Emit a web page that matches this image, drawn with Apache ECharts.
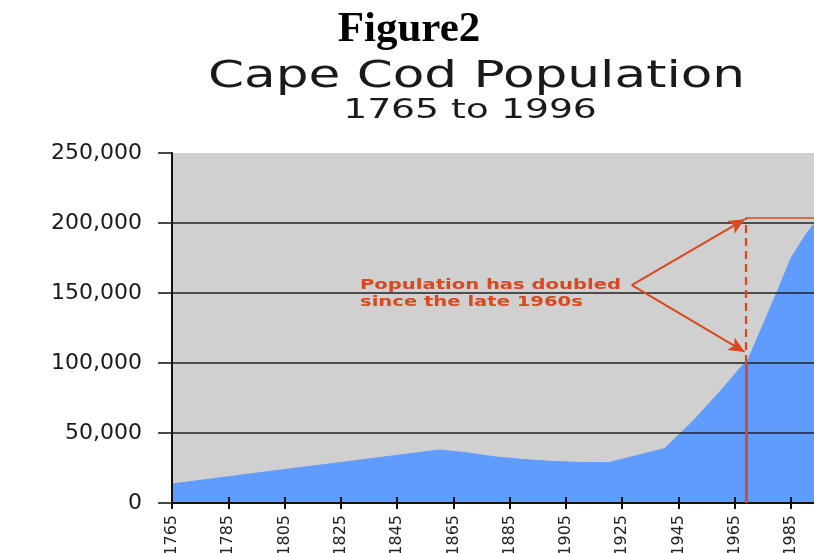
<!DOCTYPE html>
<html>
<head>
<meta charset="utf-8">
<script src="https://cdn.jsdelivr.net/npm/echarts@6/dist/echarts.min.js"></script>
<style>
html,body{margin:0;padding:0;background:#fff;}
#chart{width:814px;height:553px;}
</style>
</head>
<body>
<div id="chart"></div>
<script>
// ---- data ----
const years = [1765, 1800, 1830, 1860, 1870, 1880, 1890, 1900, 1910, 1920, 1930, 1940, 1950, 1960, 1970, 1980, 1985, 1990, 1996];
const population = [13600, 22600, 30200, 37900, 35800, 32900, 31000, 29700, 29000, 28800, 33800, 38800, 58300, 80100, 103700, 150500, 175000, 191000, 207000];
const yTickValues = [0, 50000, 100000, 150000, 200000, 250000];
const xTickStart = 1765;
const xTickStep = 20;
const xEnd = 1996;

// texts
const figureLabel = 'Figure2';
const titleText = 'Cape Cod Population';
const subtitleText = '1765 to 1996';
const noteLines = ['Population has doubled', 'since the late 1960s'];

// annotation values (in data units)
const noteFrom = [1928.4, 155700];
const arrowYear = 1968.5;
const arrowUpper = 202600;
const arrowLower = 107900;
const markYear = 1969;
const markLow = 100000;
const markHigh = 204000;

const RED = '#d9481e';
const FONT = '"DejaVu Sans", Verdana, sans-serif';

const chart = echarts.init(document.getElementById('chart'), null, {renderer: 'canvas'});

const xBase = {
  type: 'value',
  min: xTickStart,
  max: xEnd,
  interval: xTickStep,
  position: 'bottom',
  z: 3
};

const option = {
  animation: false,
  backgroundColor: '#ffffff',
  grid: {
    left: 172,
    top: 153,
    width: 650,
    height: 350,
    containLabel: false,
    outerBoundsMode: 'none',
    show: true,
    backgroundColor: '#d0d0d0',
    borderWidth: 0
  },
  xAxis: [
    Object.assign({}, xBase, {
      axisLine: {show: true, onZero: false, lineStyle: {color: '#111', width: 2}},
      axisTick: {show: true, inside: false, length: 6, lineStyle: {color: '#111', width: 2}},
      axisLabel: {
        show: true, rotate: 90, margin: 12, color: '#222',
        fontFamily: FONT, fontSize: 16, showMaxLabel: false,
        formatter: v => String(v)
      },
      splitLine: {show: false}
    }),
    Object.assign({}, xBase, {
      axisLine: {show: false},
      axisTick: {show: true, inside: true, length: 6, lineStyle: {color: '#111', width: 2}},
      axisLabel: {show: false},
      splitLine: {show: false}
    })
  ],
  yAxis: {
    type: 'value',
    min: yTickValues[0],
    max: yTickValues[yTickValues.length - 1],
    interval: yTickValues[1] - yTickValues[0],
    z: 3,
    axisLine: {show: true, lineStyle: {color: '#111', width: 2}},
    axisTick: {show: true, inside: false, length: 14, lineStyle: {color: '#111', width: 1.5}},
    axisLabel: {
      margin: 30, color: '#1a1a1a', fontFamily: FONT, fontSize: 22,
      formatter: v => v.toLocaleString('en-US')
    },
    splitLine: {show: true, showMaxLine: false, lineStyle: {color: '#222', width: 1.6}}
  },
  series: [{
    type: 'line',
    xAxisIndex: 0,
    yAxisIndex: 0,
    data: years.map((y, i) => [y, population[i]]),
    symbol: 'none',
    smooth: false,
    lineStyle: {color: '#609cff', width: 1},
    areaStyle: {color: '#609cff', opacity: 1},
    silent: true,
    z: 2,
    markLine: {
      silent: true,
      animation: false,
      z: 6,
      symbol: ['none', 'none'],
      label: {show: false},
      emphasis: {disabled: true},
      data: [
        [
          {coord: noteFrom, symbol: 'none', lineStyle: {color: RED, width: 2, type: 'solid'}},
          {coord: [arrowYear, arrowUpper], symbol: 'arrow', symbolSize: [11, 16]}
        ],
        [
          {coord: noteFrom, symbol: 'none', lineStyle: {color: RED, width: 2, type: 'solid'}},
          {coord: [arrowYear, arrowLower], symbol: 'arrow', symbolSize: [11, 16]}
        ],
        [
          {coord: [markYear, markLow], lineStyle: {color: RED, width: 2.2, type: [8, 5]}},
          {coord: [markYear, markHigh]}
        ],
        [
          {coord: [markYear, 0], lineStyle: {color: '#cc4a30', width: 2.8, type: 'solid'}},
          {coord: [markYear, markLow]}
        ],
        [
          {coord: [markYear, markHigh], lineStyle: {color: RED, width: 1.6, type: 'solid'}},
          {coord: [xEnd, markHigh]}
        ]
      ]
    }
  }],
  graphic: [
    {
      type: 'text', x: 409, y: 29.5, z: 10,
      style: {text: figureLabel, font: 'bold 43px "Liberation Serif", "Times New Roman", serif', fill: '#000',
        align: 'center', textAlign: 'center', verticalAlign: 'middle', textVerticalAlign: 'middle'}
    },
    {
      type: 'text', x: 476.5, y: 77, scaleX: 1.36, z: 10,
      style: {text: titleText, font: '38px ' + FONT, fill: '#1a1a1a',
        align: 'center', textAlign: 'center', verticalAlign: 'middle', textVerticalAlign: 'middle'}
    },
    {
      type: 'text', x: 470, y: 111, scaleX: 1.45, z: 10,
      style: {text: subtitleText, font: '26px ' + FONT, fill: '#1a1a1a',
        align: 'center', textAlign: 'center', verticalAlign: 'middle', textVerticalAlign: 'middle'}
    },
    {
      type: 'text', x: 360, y: 285, scaleX: 1.45, z: 10,
      style: {text: noteLines[0], font: 'bold 13.5px ' + FONT, fill: RED,
        align: 'left', textAlign: 'left', verticalAlign: 'middle', textVerticalAlign: 'middle'}
    },
    {
      type: 'text', x: 360, y: 302, scaleX: 1.45, z: 10,
      style: {text: noteLines[1], font: 'bold 13.5px ' + FONT, fill: RED,
        align: 'left', textAlign: 'left', verticalAlign: 'middle', textVerticalAlign: 'middle'}
    }
  ]
};

chart.setOption(option);
</script>
</body>
</html>
